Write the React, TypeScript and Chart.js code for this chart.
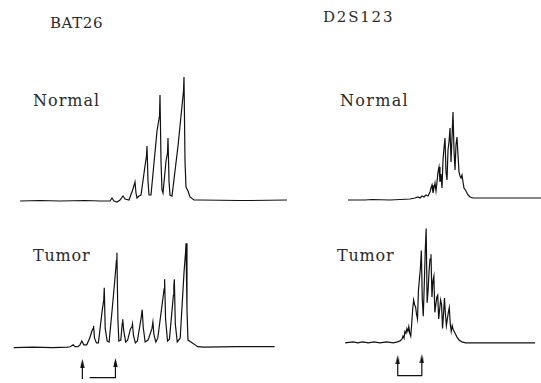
import React, { useEffect, useRef } from "react";
import { Chart, registerables } from "chart.js";

Chart.register(...registerables);

// ---- Data: electropherogram traces as [scan position, signal above baseline] ----
const bat26Normal: [number, number][] = [
  [20, 0], [40, 0.5], [60, 0], [85, 0.5], [100, 0], [110, 0], [112, 3], [114, 0], [117, -1], [120, 1],
  [123, 5], [125, 2], [129, 1], [133, 12], [135, 19], [136, 8], [137, 3], [139, 5], [141, 6], [145, 35],
  [146.5, 45], [147, 55], [148, 20], [149, 6], [151, 6], [157, 70], [159.5, 85], [160, 106], [161, 40], [162, 11],
  [163, 8], [166, 40], [167.5, 48], [168, 63], [169, 20], [170, 6], [172, 5], [178, 55], [182, 95], [183.5, 110],
  [184, 124], [185, 40], [186, 14], [188, 10], [190, 4], [194, 1], [200, 1], [240, 0.5], [250, 0.5], [287, 1],
];

const bat26Tumor: [number, number][] = [
  [10, 0], [30, 0.5], [50, 0], [65, 0.5], [68, 1], [71, 3], [73, 1], [76, 1], [78, 3], [80, 7],
  [82, 3], [85, 3], [88, 10], [90.5, 18], [91.5, 20], [92, 23], [93, 10], [95, 5], [97, 5], [101, 40],
  [102.5, 50], [103, 63], [104, 20], [106, 7], [108, 6], [112, 50], [115, 85], [115.5, 92], [116, 100], [117, 30],
  [118, 7], [120, 8], [121.5, 26], [122, 30], [123, 18], [125, 6], [127, 8], [130, 20], [131.5, 22], [132, 25],
  [133, 13], [135, 5], [137, 7], [141, 32], [142, 40], [143, 22], [145, 6], [148, 8], [152, 20], [153, 27],
  [154, 14], [156, 6], [158, 10], [163, 50], [164.5, 62], [165, 72], [166, 30], [168, 7], [170, 9], [174, 55],
  [174.5, 65], [175, 72], [176, 25], [178, 6], [181, 10], [185, 80], [186.5, 100], [187, 110], [188, 40], [189, 8],
  [192, 6], [195, 4], [199, 1], [205, 0.5], [240, 1], [278, 1],
];

const d2s123Normal: [number, number][] = [
  [348, 0], [365, 0], [372, 0.5], [390, 0], [400, 0.5], [410, 1], [415, 2], [418, 3], [420, 2], [422, 4],
  [424, 3], [426, 5], [428, 4], [430, 8], [431, 12], [432, 15], [433, 7], [434, 12], [435, 17], [436, 9],
  [437, 18], [438, 28], [439, 33], [440, 18], [441, 26], [442, 12], [443, 40], [444, 52], [445, 62], [446, 28],
  [447, 20], [448, 50], [449, 58], [450, 72], [451, 38], [452, 62], [453, 88], [454, 50], [455, 30], [456, 55],
  [457, 63], [458, 45], [459, 28], [460, 24], [461, 22], [462, 25], [463, 18], [464, 12], [466, 9], [468, 5],
  [470, 3], [473, 2], [478, 2], [500, 2], [541, 2],
];

const d2s123Tumor: [number, number][] = [
  [342, 0], [350, 1], [355, 0], [360, 1], [366, 0], [372, 1], [378, 0], [385, 1], [392, 0], [396, 1],
  [399, 2], [401, 4], [402, 7], [403, 5], [404, 12], [405, 10], [406, 15], [407, 12], [408, 17], [409, 10],
  [410, 7], [411, 20], [412, 35], [413, 45], [414, 40], [415, 38], [416, 30], [417, 25], [418, 55], [419, 67],
  [420, 78], [421, 97], [422, 45], [423, 28], [424, 60], [425, 95], [426, 120], [427, 42], [428, 55], [429, 75],
  [430, 88], [431, 93], [432, 48], [433, 65], [434, 70], [435, 32], [436, 40], [437, 48], [438, 50], [439, 25],
  [440, 35], [441, 45], [442, 40], [443, 15], [444, 30], [445, 47], [446, 30], [447, 18], [448, 25], [449, 32],
  [450, 37], [451, 20], [452, 12], [453, 18], [454, 14], [456, 10], [458, 6], [460, 3], [463, 1], [467, 0],
  [500, 0], [539, 0],
];

// Allele-shift markers (arrows below the tumor traces)
const bat26ArrowLeft: [number, number][] = [[80.5, -34], [80.5, -16.5]];
const bat26ArrowRight: [number, number][] = [[88, -31.5], [114.5, -31.5], [114.5, -15.5]];
const d2s123Arrows: [number, number][] = [[396.5, -17.5], [396.5, -34.5], [421.5, -34.5], [421.5, -16.5]];

// Labels
const markerLabels = ["BAT26", "D2S123"];
const sampleLabels = ["Normal", "Tumor"];

type Trace = { pts: [number, number][]; heads?: number[] };

function makeArrowHead(): HTMLCanvasElement {
  const c = document.createElement("canvas");
  c.width = 5;
  c.height = 9;
  const ctx = c.getContext("2d")!;
  ctx.fillStyle = "#111";
  ctx.beginPath();
  ctx.moveTo(2.5, 0);
  ctx.lineTo(0.3, 9);
  ctx.lineTo(4.7, 9);
  ctx.closePath();
  ctx.fill();
  return c;
}

function Panel(props: {
  left: number; top: number; width: number; height: number;
  xMin: number; yMax: number; traces: Trace[];
}) {
  const ref = useRef<HTMLCanvasElement>(null);
  const { left, top, width, height, xMin, yMax, traces } = props;
  useEffect(() => {
    const head = makeArrowHead();
    const chart = new Chart(ref.current!, {
      type: "line",
      data: {
        datasets: traces.map((t) => ({
          data: t.pts.map(([x, y]) => ({ x, y })),
          borderColor: "#111",
          borderWidth: 1.2,
          fill: false,
          tension: 0,
          pointStyle: head as any,
          pointRadius: t.pts.map((_, i) => (t.heads && t.heads.includes(i) ? 3 : 0)),
          pointBackgroundColor: "#111",
          pointBorderWidth: 0,
        })),
      },
      options: {
        animation: false,
        responsive: false,
        maintainAspectRatio: false,
        events: [],
        layout: { padding: 0 },
        plugins: { legend: { display: false }, tooltip: { enabled: false }, title: { display: false } },
        scales: {
          x: { type: "linear", display: false, min: xMin, max: xMin + width },
          y: { type: "linear", display: false, min: yMax - height, max: yMax },
        },
      },
    });
    return () => chart.destroy();
  }, []);
  return (
    <canvas
      ref={ref}
      width={width}
      height={height}
      style={{ position: "absolute", left, top, width, height }}
    />
  );
}

const labelStyle = (left: number, top: number, size: number, ls: number): React.CSSProperties => ({
  position: "absolute",
  left,
  top,
  fontFamily: "'DejaVu Serif', serif",
  fontSize: size,
  lineHeight: 1,
  letterSpacing: ls,
  color: "#2a2a2a",
  whiteSpace: "nowrap",
});

export default function App() {
  return (
    <div style={{ position: "absolute", left: 0, top: 0, width: 541, height: 383, background: "#fff", overflow: "hidden" }}>
      <div style={labelStyle(50, 16, 15, 0.6)}>{markerLabels[0]}</div>
      <div style={labelStyle(323, 10.3, 15, 1.8)}>{markerLabels[1]}</div>
      <div style={labelStyle(33, 93.4, 16, 1)}>{sampleLabels[0]}</div>
      <div style={labelStyle(340, 93, 16, 1.3)}>{sampleLabels[0]}</div>
      <div style={labelStyle(33, 248, 16, 0.8)}>{sampleLabels[1]}</div>
      <div style={labelStyle(337, 248, 16, 0.8)}>{sampleLabels[1]}</div>

      <Panel left={0} top={55} width={300} height={155} xMin={0} yMax={146} traces={[{ pts: bat26Normal }]} />
      <Panel
        left={0} top={225} width={300} height={158} xMin={0} yMax={125}
        traces={[{ pts: bat26Tumor }, { pts: bat26ArrowLeft, heads: [1] }, { pts: bat26ArrowRight, heads: [2] }]}
      />
      <Panel left={320} top={100} width={221} height={110} xMin={320} yMax={100} traces={[{ pts: d2s123Normal }]} />
      <Panel
        left={320} top={215} width={221} height={168} xMin={320} yMax={130}
        traces={[{ pts: d2s123Tumor }, { pts: d2s123Arrows, heads: [0, 3] }]}
      />
    </div>
  );
}
